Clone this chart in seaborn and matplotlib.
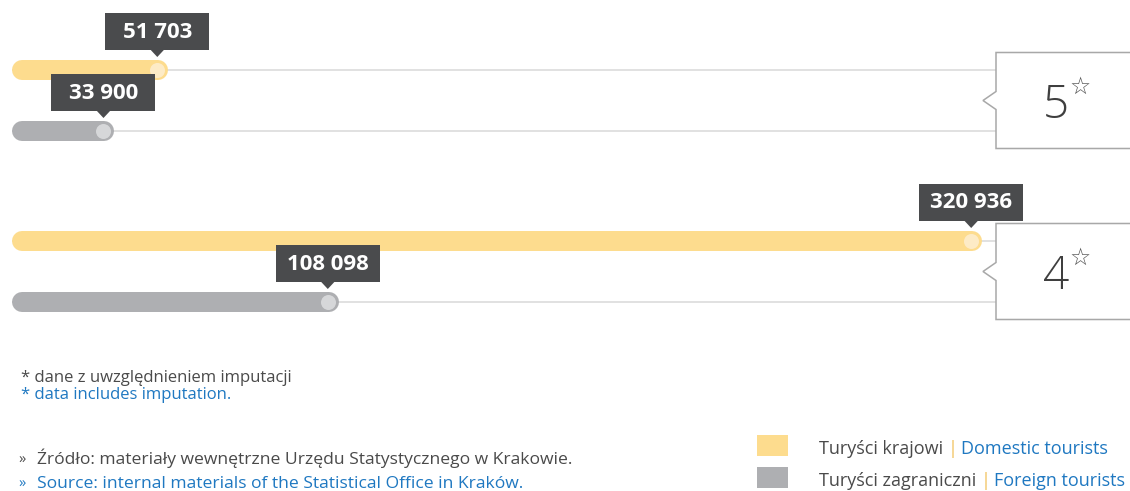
import matplotlib
matplotlib.use("Agg")
import matplotlib.pyplot as plt
import matplotlib.transforms as mtransforms
from matplotlib.patches import Rectangle, Polygon
import pandas as pd
import seaborn as sns

# data
stars = ["5", "5", "4", "4"]
groups = ["domestic", "foreign", "domestic", "foreign"]
tourists = [51703, 33900, 320936, 108098]

legend_pl = ["Turyści krajowi", "Turyści zagraniczni"]
legend_en = ["Domestic tourists", "Foreign tourists"]
note_pl = "* dane z uwzględnieniem imputacji"
note_en = "* data includes imputation."
source_pl = "Źródło: materiały wewnętrzne Urzędu Statystycznego w Krakowie."
source_en = "Source: internal materials of the Statistical Office in Kraków."

bar_colors = {"domestic": "#FDDC8E", "foreign": "#AEAFB2"}
dot_colors = {"domestic": "#FDEBC6", "foreign": "#D6D7D9"}
GREY_TXT = "#4A4A4A"
BLUE_TXT = "#1F78C1"

W, H = 1130, 491
k = 0.003023  # pixels per tourist
x0 = 12       # pixel where the bars start

df = pd.DataFrame({"stars": stars, "group": groups, "tourists": tourists})
star_order = list(dict.fromkeys(stars))
centers = {s: 100.5 + 171 * i for i, s in enumerate(star_order)}
df["ypos"] = [centers[s] + (-30.5 if g == "domestic" else 30.5) for s, g in zip(df.stars, df.group)]
df["label"] = [f"{v:,}".replace(",", " ") for v in df.tourists]

sns.set_theme(style="white")
plt.rcParams["font.family"] = ["Open Sans", "DejaVu Sans"]

fig = plt.figure(figsize=(W / 100, H / 100), dpi=100)
ax = fig.add_axes([0, 0, 1, 1])
sns.barplot(data=df, x="tourists", y="ypos", hue="group", palette=bar_colors, orient="h",
            native_scale=True, dodge=False, width=20 / 61, errorbar=None, legend=False,
            saturation=1, ax=ax)
ax.set_xlim(-x0 / k, (W - x0) / k)
ax.set_ylim(H, 0)
ax.set_axis_off()

# pixel transform (origin top-left) for the decorations
px = mtransforms.Affine2D().scale(1 / W, -1 / H).translate(0, 1) + fig.transFigure

# turn the rectangles into rounded bars
r = 10 / k
for p in list(ax.patches):
    x, w = p.get_x(), p.get_width()
    yc = p.get_y() + p.get_height() / 2
    fc = p.get_facecolor()
    p.set_visible(False)
    ax.plot([x + r, x + w - r], [yc, yc], color=fc, lw=20 * 0.72, solid_capstyle="round", zorder=3)

# track lines
ax.hlines(df.ypos, 0, (996 - x0) / k, color="#DCDCDC", lw=1.2, zorder=1)

# end dots and value tooltips
for _, row in df.iterrows():
    cx = row.tourists - 11 / k
    y = row.ypos
    ax.scatter([cx], [y], s=(15 * 0.72) ** 2, color=dot_colors[row.group], linewidths=0, zorder=4)
    ax.add_patch(Rectangle((cx - 52 / k, y - 57), 104 / k, 37, fc="#4A4B4D", ec="none", zorder=5))
    ax.add_patch(Polygon([(cx - 7 / k, y - 20.5), (cx + 7 / k, y - 20.5), (cx, y - 13)],
                         closed=True, fc="#4A4B4D", ec="none", zorder=5))
    ax.text(cx, y - 38, row.label, ha="center", va="center", color="white",
            fontsize=16, fontweight="bold", zorder=6)

# star category boxes
for s, c in centers.items():
    pts = [(1140, c - 48), (996, c - 48), (996, c - 9), (983, c), (996, c + 9), (996, c + 48), (1140, c + 48)]
    fig.add_artist(Polygon(pts, closed=False, fill=False, ec="#A8A8A8", lw=1.1, transform=px))
    fig.text(1056, c + 6, s, transform=px, ha="center", va="center", fontsize=33,
             fontweight="light", color="#3F3F3F")
    fig.text(1080, c - 14, "☆", transform=px, ha="center", va="center", fontsize=17,
             color="#555555", family="DejaVu Sans")

renderer = fig.canvas.get_renderer()


def multi_text(x, y, parts, size):
    for txt, col, gap in parts:
        t = fig.text(x, y, txt, transform=px, color=col, fontsize=size, va="baseline")
        x = t.get_window_extent(renderer).x1 + gap


# footnotes
fig.text(21, 382, note_pl, transform=px, color=GREY_TXT, fontsize=12, va="baseline")
fig.text(21, 399, note_en, transform=px, color=BLUE_TXT, fontsize=12, va="baseline")
fig.text(18, 464, "»", transform=px, color=GREY_TXT, fontsize=10.5, va="baseline")
fig.text(37, 464, source_pl, transform=px, color=GREY_TXT, fontsize=12.6, va="baseline")
fig.text(18, 488, "»", transform=px, color=BLUE_TXT, fontsize=10.5, va="baseline")
fig.text(37, 488, source_en, transform=px, color=BLUE_TXT, fontsize=12.6, va="baseline")

# legend
for i, g in enumerate(["domestic", "foreign"]):
    top = 435 + 32 * i
    fig.add_artist(Rectangle((757, top), 31, 21, fc=bar_colors[g], ec="none", transform=px))
    multi_text(819, top + 19, [(legend_pl[i], GREY_TXT, 4), ("|", "#F2C25C", 4),
                               (legend_en[i], BLUE_TXT, 0)], 13)

fig.savefig("out.png", dpi=100)
